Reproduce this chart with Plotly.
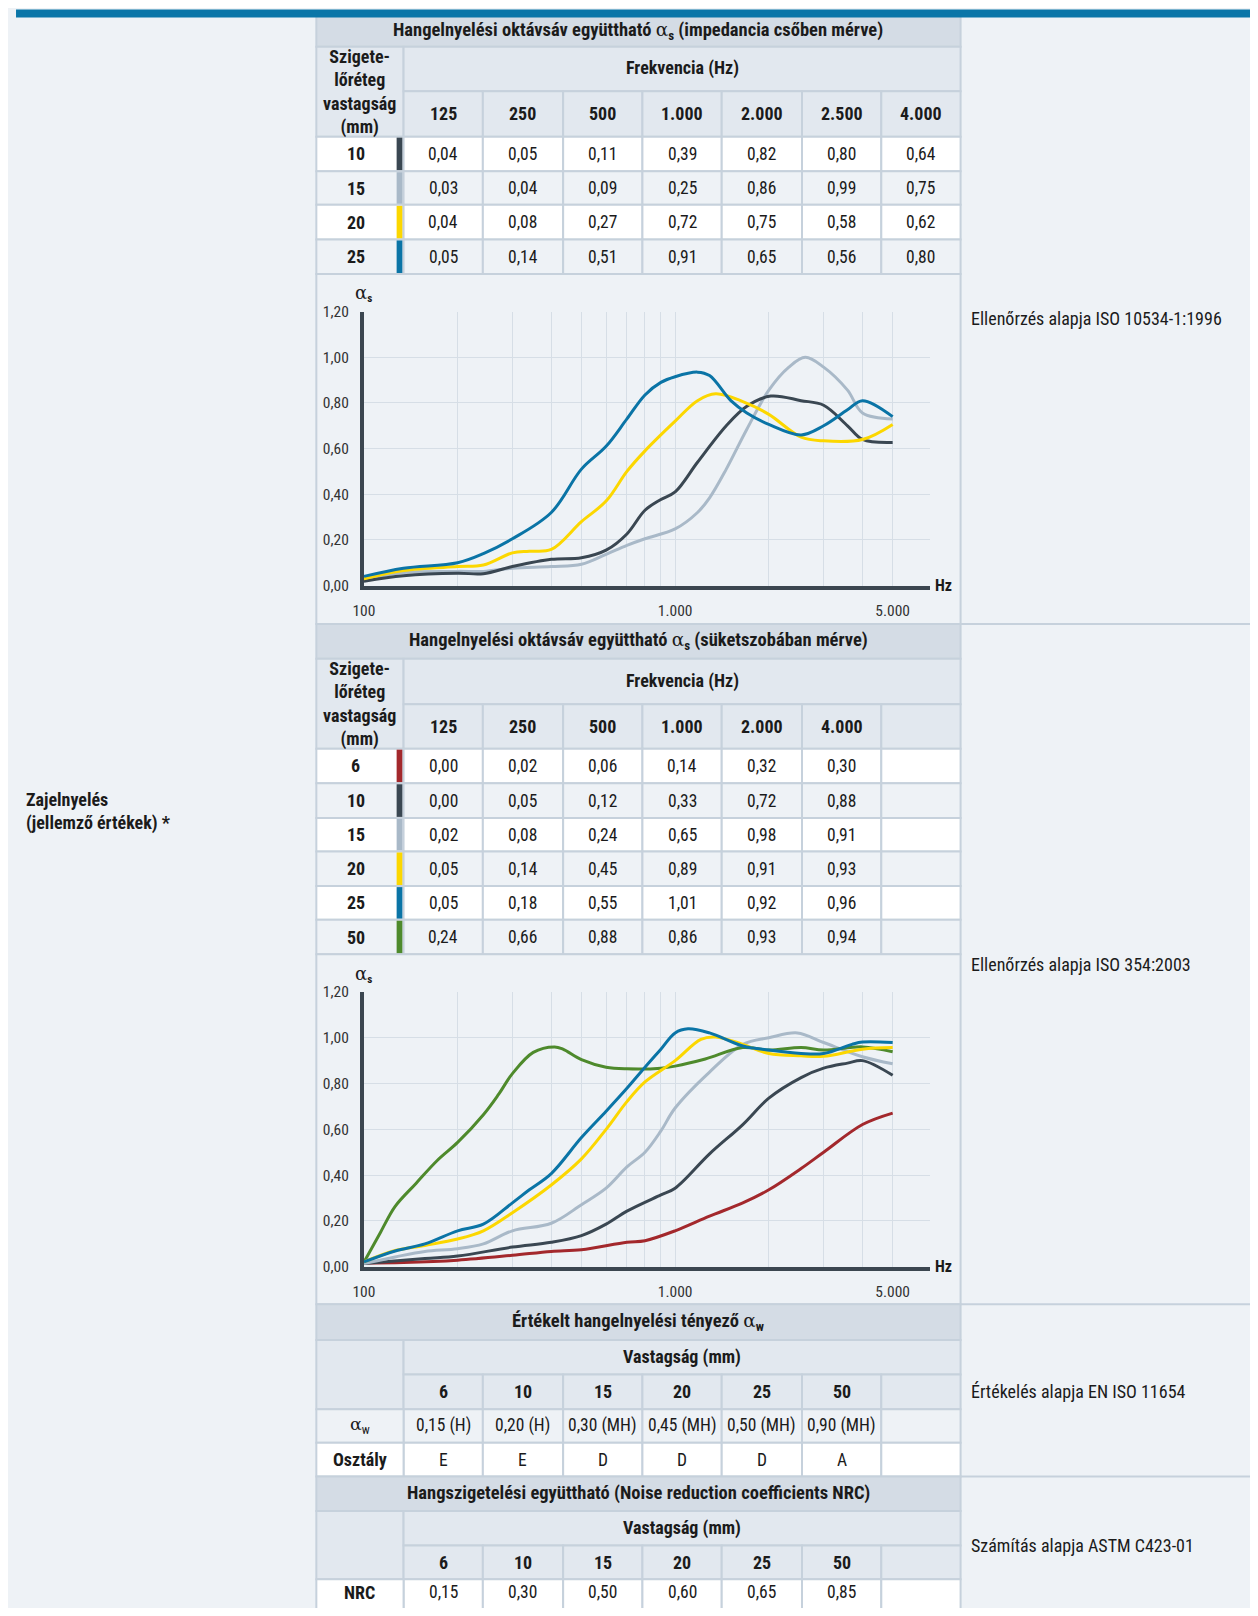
import math
import plotly.graph_objects as go

# ---------------- DATA ----------------
t1_title = "Hangelnyelési oktávsáv együttható"
t1_freqs = ["125", "250", "500", "1.000", "2.000", "2.500", "4.000"]
t1_thick = ["10", "15", "20", "25"]
t1_10 = [0.04, 0.05, 0.11, 0.39, 0.82, 0.80, 0.64]
t1_15 = [0.03, 0.04, 0.09, 0.25, 0.86, 0.99, 0.75]
t1_20 = [0.04, 0.08, 0.27, 0.72, 0.75, 0.58, 0.62]
t1_25 = [0.05, 0.14, 0.51, 0.91, 0.65, 0.56, 0.80]

t2_freqs = ["125", "250", "500", "1.000", "2.000", "4.000"]
t2_thick = ["6", "10", "15", "20", "25", "50"]
t2_6 = [0.00, 0.02, 0.06, 0.14, 0.32, 0.30]
t2_10 = [0.00, 0.05, 0.12, 0.33, 0.72, 0.88]
t2_15 = [0.02, 0.08, 0.24, 0.65, 0.98, 0.91]
t2_20 = [0.05, 0.14, 0.45, 0.89, 0.91, 0.93]
t2_25 = [0.05, 0.18, 0.55, 1.01, 0.92, 0.96]
t2_50 = [0.24, 0.66, 0.88, 0.86, 0.93, 0.94]

t3_thick = ["6", "10", "15", "20", "25", "50"]
t3_aw = ["0,15 (H)", "0,20 (H)", "0,30 (MH)", "0,45 (MH)", "0,50 (MH)", "0,90 (MH)"]
t3_class = ["E", "E", "D", "D", "D", "A"]
t4_nrc = [0.15, 0.30, 0.50, 0.60, 0.65, 0.85]

# chart 1 (impedance tube) curves
c1_10_f = [100, 134, 200, 242, 300, 400, 500, 600, 700, 800, 900, 1000, 1180, 1460, 1700, 2030, 2540, 3000, 3580, 4000, 5000]
c1_10_v = [0.019, 0.043, 0.054, 0.052, 0.083, 0.115, 0.122, 0.155, 0.226, 0.33, 0.377, 0.41, 0.54, 0.70, 0.785, 0.83, 0.81, 0.79, 0.70, 0.64, 0.627]
c1_15_f = [100, 134, 200, 242, 300, 400, 500, 600, 700, 800, 1000, 1180, 1290, 1460, 1700, 2000, 2320, 2620, 3000, 3580, 4000, 5000]
c1_15_v = [0.026, 0.057, 0.062, 0.062, 0.076, 0.083, 0.093, 0.137, 0.176, 0.205, 0.248, 0.32, 0.384, 0.51, 0.685, 0.856, 0.957, 1.0, 0.957, 0.856, 0.756, 0.73]
c1_20_f = [100, 134, 200, 242, 300, 340, 400, 500, 600, 700, 800, 1000, 1180, 1350, 1650, 2000, 2540, 3000, 4000, 5000]
c1_20_v = [0.029, 0.066, 0.083, 0.09, 0.143, 0.15, 0.158, 0.28, 0.37, 0.50, 0.59, 0.72, 0.81, 0.84, 0.806, 0.75, 0.65, 0.634, 0.64, 0.706]
c1_25_f = [100, 134, 200, 242, 300, 400, 500, 600, 700, 800, 900, 1000, 1180, 1290, 1510, 1700, 2000, 2540, 3000, 3580, 4000, 5000]
c1_25_v = [0.04, 0.076, 0.10, 0.14, 0.205, 0.32, 0.51, 0.61, 0.73, 0.835, 0.89, 0.915, 0.935, 0.92, 0.81, 0.756, 0.706, 0.66, 0.70, 0.77, 0.81, 0.74]

# chart 2 (reverberation room) curves
c2_6_f = [100, 134, 200, 300, 400, 500, 700, 800, 1000, 1290, 1650, 2000, 2540, 3000, 4000, 5000]
c2_6_v = [0.017, 0.019, 0.029, 0.05, 0.067, 0.074, 0.107, 0.114, 0.157, 0.221, 0.279, 0.336, 0.429, 0.50, 0.621, 0.671]
c2_10_f = [100, 157, 200, 300, 400, 500, 600, 700, 900, 1000, 1290, 1650, 2000, 2540, 3000, 3580, 4000, 5000]
c2_10_v = [0.014, 0.036, 0.047, 0.086, 0.107, 0.136, 0.186, 0.243, 0.314, 0.343, 0.493, 0.621, 0.736, 0.826, 0.867, 0.889, 0.90, 0.836]
c2_15_f = [100, 126, 157, 200, 242, 300, 400, 500, 600, 700, 800, 900, 1000, 1290, 1650, 2000, 2470, 3000, 4000, 5000]
c2_15_v = [0.014, 0.043, 0.067, 0.079, 0.10, 0.157, 0.19, 0.271, 0.343, 0.436, 0.50, 0.593, 0.693, 0.85, 0.971, 1.0, 1.021, 0.979, 0.917, 0.886]
c2_20_f = [100, 126, 157, 200, 242, 300, 400, 500, 600, 700, 800, 1000, 1210, 1350, 1650, 2000, 2540, 3000, 4000, 5000]
c2_20_v = [0.021, 0.071, 0.093, 0.121, 0.157, 0.236, 0.357, 0.471, 0.60, 0.721, 0.807, 0.90, 0.993, 1.003, 0.971, 0.931, 0.921, 0.919, 0.95, 0.957]
c2_25_f = [100, 126, 157, 200, 242, 300, 340, 400, 500, 600, 700, 800, 900, 1000, 1100, 1290, 1650, 2000, 2540, 3000, 3700, 4000, 5000]
c2_25_v = [0.021, 0.069, 0.10, 0.157, 0.186, 0.279, 0.336, 0.407, 0.564, 0.679, 0.779, 0.871, 0.95, 1.021, 1.039, 1.021, 0.964, 0.946, 0.931, 0.931, 0.971, 0.981, 0.979]
c2_50_f = [100, 113, 126, 147, 172, 200, 242, 270, 300, 350, 410, 436, 500, 600, 700, 900, 1000, 1250, 1650, 2000, 2540, 3000, 4000, 5000]
c2_50_v = [0.02, 0.15, 0.264, 0.364, 0.464, 0.543, 0.664, 0.75, 0.843, 0.936, 0.96, 0.95, 0.904, 0.871, 0.864, 0.867, 0.876, 0.907, 0.957, 0.946, 0.957, 0.946, 0.96, 0.939]

y_ticks = [0, 0.2, 0.4, 0.6, 0.8, 1.0, 1.2]
x_ticks = [100, 1000, 5000]
x_ticktext = ["100", "1.000", "5.000"]
x_minor_grid = [200, 300, 400, 500, 600, 700, 800, 900, 2000, 3000, 4000]

# ---------------- STYLE ----------------
# Positions below are page pixels of the reference. The browser's default 8px body margin
# places the graph 8px right/down, so the figure is drawn 8px earlier and sized to fit the
# 1258x1616 window exactly (no scrollbars).
OFF = 8
W, H = 1258 - 2 * OFF, 1616 - 2 * OFF
FONT = "Roboto Condensed, Liberation Sans Narrow, DejaVu Sans Condensed, Roboto, Arial, sans-serif"
TXT = "#1b1b1b"
BORDER = "#c6d1dc"
C_TITLE = "#d4dce5"
C_HEAD = "#e2e8ef"
C_LIGHT = "#eef2f6"
C_WHITE = "#ffffff"
C_PAGE = "#eef2f6"
AXC = "#3b4650"
GRID = "#d6dee6"
SER = {"6": "#a3282c", "10": "#3a4752", "15": "#a9b9c8", "20": "#fcd700", "25": "#0a74a6", "50": "#4e8a2c"}
ALPHA = '<span style="font-family:DejaVu Serif, Liberation Serif, serif;font-weight:normal">α</span>'
S_TITLE, S_BOLD, S_VAL, S_SIDE = 18.5, 18, 17.5, 18


def fmt(v):
    return f"{v:.2f}".replace(".", ",")


def X(px):
    return (px - OFF) / W


def Y(py):
    return 1 - (py - OFF) / H


shapes = []
annots = []


def rect(x0, y0, x1, y1, fill, line=None, lw=0, layer="below"):
    shapes.append(dict(type="rect", xref="paper", yref="paper", x0=X(x0), x1=X(x1), y0=Y(y1), y1=Y(y0),
                       fillcolor=fill, line=dict(color=line or fill, width=lw), layer=layer))


def cell(x0, y0, x1, y1, fill):
    rect(x0, y0, x1, y1, fill, BORDER, 2)


def hline(x0, x1, y, color=BORDER, w=2):
    shapes.append(dict(type="line", xref="paper", yref="paper", x0=X(x0), x1=X(x1), y0=Y(y), y1=Y(y),
                       line=dict(color=color, width=w), layer="below"))


def txt(x, y, s, size=S_VAL, bold=False, color=TXT, xanchor="center", align="center"):
    if bold:
        s = f"<b>{s}</b>"
    annots.append(dict(xref="paper", yref="paper", x=X(x), y=Y(y), text=s, showarrow=False,
                       xanchor=xanchor, yanchor="middle", align=align,
                       font=dict(family=FONT, size=size, color=color)))


# top accent bar (mostly within the page margin)
rect(5, 0.5, W + 2 * OFF, 8.6, "#0a76a8", layer="above")

L, LC = 308, 396
BAR0 = 389
cols = [396, 476, 557, 637, 717, 798, 878, 958]
R = 958


def mid(i):
    return (cols[i] + cols[i + 1]) / 2


LABEL_HEAD = "Szigete-<br>lőréteg<br>vastagság<br>(mm)"

# ---------- table 1 ----------
cell(L, 6, R, 38, C_TITLE)
txt(633, 22, f"<b>{t1_title} </b>{ALPHA}<b><sub>s</sub> (impedancia csőben mérve)</b>", size=S_TITLE)
cell(L, 38, LC, 129, C_HEAD)
txt(352, 84, LABEL_HEAD, size=S_BOLD, bold=True)
cell(LC, 38, R, 83, C_HEAD)
txt(677, 60, "Frekvencia (Hz)", size=S_BOLD, bold=True)
for i, f in enumerate(t1_freqs):
    cell(cols[i], 83, cols[i + 1], 129, C_HEAD)
    txt(mid(i), 106, f, size=S_BOLD, bold=True)
t1_rows = [t1_10, t1_15, t1_20, t1_25]
ys = [129, 164, 198, 233, 268]
for r, (th, vals) in enumerate(zip(t1_thick, t1_rows)):
    y0, y1 = ys[r], ys[r + 1]
    fill = C_WHITE if r % 2 == 0 else C_LIGHT
    cell(L, y0, LC, y1, fill)
    rect(BAR0, y0 + 1, LC - 1, y1 - 1, SER[th])
    txt(348, (y0 + y1) / 2, th, size=S_BOLD, bold=True)
    for i, v in enumerate(vals):
        cell(cols[i], y0, cols[i + 1], y1, fill)
        txt(mid(i), (y0 + y1) / 2, fmt(v))
cell(L, 268, R, 622, C_LIGHT)

# ---------- table 2 ----------
cell(L, 622, R, 657, C_TITLE)
txt(633, 639, f"<b>{t1_title} </b>{ALPHA}<b><sub>s</sub> (süketszobában mérve)</b>", size=S_TITLE)
cell(L, 657, LC, 748, C_HEAD)
txt(352, 703, LABEL_HEAD, size=S_BOLD, bold=True)
cell(LC, 657, R, 703, C_HEAD)
txt(677, 680, "Frekvencia (Hz)", size=S_BOLD, bold=True)
for i in range(7):
    cell(cols[i], 703, cols[i + 1], 748, C_HEAD)
    if i < len(t2_freqs):
        txt(mid(i), 726, t2_freqs[i], size=S_BOLD, bold=True)
t2_rows = [t2_6, t2_10, t2_15, t2_20, t2_25, t2_50]
ys = [748, 783, 818, 852, 887, 921, 956]
for r, (th, vals) in enumerate(zip(t2_thick, t2_rows)):
    y0, y1 = ys[r], ys[r + 1]
    fill = C_WHITE if r % 2 == 0 else C_LIGHT
    cell(L, y0, LC, y1, fill)
    rect(BAR0, y0 + 1, LC - 1, y1 - 1, SER[th])
    txt(348, (y0 + y1) / 2, th, size=S_BOLD, bold=True)
    for i in range(7):
        cell(cols[i], y0, cols[i + 1], y1, fill)
        if i < len(vals):
            txt(mid(i), (y0 + y1) / 2, fmt(vals[i]))
cell(L, 956, R, 1310, C_LIGHT)

# ---------- table 3 ----------
cell(L, 1310, R, 1346, C_TITLE)
txt(633, 1328, f"<b>Értékelt hangelnyelési tényező </b>{ALPHA}<b><sub>w</sub></b>", size=S_TITLE)
cell(L, 1346, LC, 1416, C_HEAD)
cell(LC, 1346, R, 1381, C_HEAD)
txt(677, 1363, "Vastagság (mm)", size=S_BOLD, bold=True)
for i in range(7):
    cell(cols[i], 1381, cols[i + 1], 1416, C_HEAD)
    cell(cols[i], 1416, cols[i + 1], 1450, C_LIGHT)
    cell(cols[i], 1450, cols[i + 1], 1484, C_WHITE)
    if i < len(t3_thick):
        txt(mid(i), 1398, t3_thick[i], size=S_BOLD, bold=True)
        txt(mid(i), 1433, t3_aw[i])
        txt(mid(i), 1467, t3_class[i])
cell(L, 1416, LC, 1450, C_LIGHT)
txt(352, 1433, f"{ALPHA}<sub>w</sub>")
cell(L, 1450, LC, 1484, C_WHITE)
txt(352, 1467, "Osztály", size=S_BOLD, bold=True)

# ---------- table 4 ----------
cell(L, 1484, R, 1519, C_TITLE)
txt(633, 1501, "Hangszigetelési együttható (Noise reduction coefficients NRC)", size=S_TITLE, bold=True)
cell(L, 1519, LC, 1588, C_HEAD)
cell(LC, 1519, R, 1554, C_HEAD)
txt(677, 1536, "Vastagság (mm)", size=S_BOLD, bold=True)
NRC_Y = 1601
for i in range(7):
    cell(cols[i], 1554, cols[i + 1], 1588, C_HEAD)
    cell(cols[i], 1588, cols[i + 1], 1640, C_WHITE)
    if i < len(t3_thick):
        txt(mid(i), 1571, t3_thick[i], size=S_BOLD, bold=True)
        txt(mid(i), NRC_Y, fmt(t4_nrc[i]))
cell(L, 1588, LC, 1640, C_WHITE)
txt(352, NRC_Y, "NRC", size=S_BOLD, bold=True)

# right panel
for yy in [622, 1310, 1484]:
    hline(R, W + 2 * OFF + 2, yy)
txt(966, 313, "Ellenőrzés alapja ISO 10534-1:1996", size=S_SIDE, xanchor="left", align="left")
txt(966, 966, "Ellenőrzés alapja ISO 354:2003", size=S_SIDE, xanchor="left", align="left")
txt(966, 1398, "Értékelés alapja EN ISO 11654", size=S_SIDE, xanchor="left", align="left")
txt(966, 1554, "Számítás alapja ASTM C423-01", size=S_SIDE, xanchor="left", align="left")
# left panel
txt(13, 812, "Zajelnyelés<br>(jellemző értékek) *", size=S_SIDE, bold=True, xanchor="left", align="left")

# chart labels
for ytop, ybot in [(306, 583), (994, 1272)]:
    txt(356, ytop - 18, f'<span style="font-size:18px">{ALPHA}</span><b><sub>s</sub></b>', size=16)
    txt(941, ybot, "Hz", size=16, bold=True)

# ---------------- FIGURE ----------------
fig = go.Figure()

chart1 = [("15", c1_15_f, c1_15_v), ("10", c1_10_f, c1_10_v), ("20", c1_20_f, c1_20_v), ("25", c1_25_f, c1_25_v)]
chart2 = [("6", c2_6_f, c2_6_v), ("10", c2_10_f, c2_10_v), ("15", c2_15_f, c2_15_v),
          ("50", c2_50_f, c2_50_v), ("20", c2_20_f, c2_20_v), ("25", c2_25_f, c2_25_v)]

for th, f, v in chart1:
    fig.add_trace(go.Scatter(x=f, y=v, mode="lines", xaxis="x", yaxis="y", showlegend=False, hoverinfo="skip",
                             line=dict(color=SER[th], width=3, shape="spline", smoothing=1.0)))
for th, f, v in chart2:
    fig.add_trace(go.Scatter(x=f, y=v, mode="lines", xaxis="x2", yaxis="y2", showlegend=False, hoverinfo="skip",
                             line=dict(color=SER[th], width=3, shape="spline", smoothing=1.0)))

x_right = 10 ** (2 + (927 - 356) / 314)


def xaxis(anchor):
    return dict(type="log", range=[2, math.log10(x_right)], domain=[X(356), X(927)], anchor=anchor,
                tickvals=x_ticks, ticktext=x_ticktext,
                showgrid=True, gridcolor=GRID, gridwidth=1, zeroline=False,
                minor=dict(tickvals=x_minor_grid, showgrid=True, gridcolor=GRID, gridwidth=1, ticks=""),
                showline=True, linecolor=AXC, linewidth=4, ticks="", ticklabelstandoff=8,
                tickfont=dict(family=FONT, size=15.5, color="#333333"), fixedrange=True)


def yaxis(anchor, top, bot):
    return dict(range=[0, 1.2], domain=[Y(bot), Y(top)], anchor=anchor,
                tickvals=y_ticks, ticktext=[fmt(v) for v in y_ticks],
                showgrid=True, gridcolor=GRID, gridwidth=1, zeroline=False,
                showline=True, linecolor=AXC, linewidth=4, ticks="", ticklabelstandoff=8,
                tickfont=dict(family=FONT, size=15.5, color="#333333"), fixedrange=True)


fig.update_layout(
    width=W, height=H, margin=dict(l=0, r=0, t=0, b=0),
    paper_bgcolor=C_PAGE, plot_bgcolor="rgba(0,0,0,0)",
    xaxis=xaxis("y"), yaxis=yaxis("x", 306, 583),
    xaxis2=xaxis("y2"), yaxis2=yaxis("x2", 994, 1272),
    shapes=shapes, annotations=annots, showlegend=False,
    font=dict(family=FONT, color=TXT),
)

fig.write_html("out.html", config={"displayModeBar": False, "staticPlot": True})
